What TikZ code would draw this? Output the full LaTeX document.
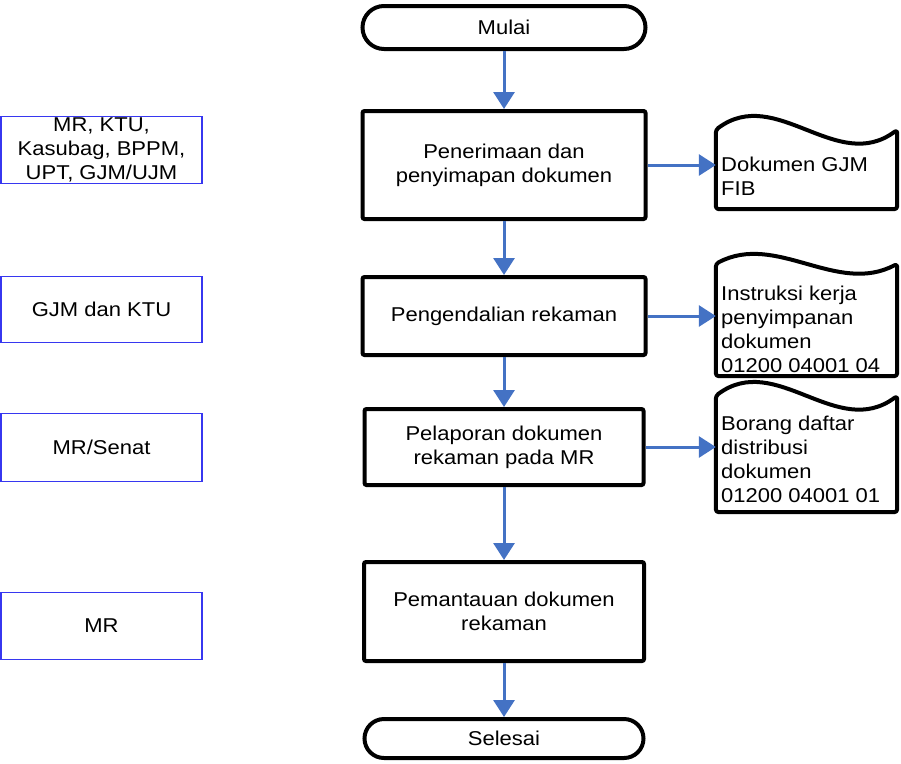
\documentclass[tikz,border=0pt]{standalone}
\usepackage{fontspec}
\setmainfont{Liberation Sans}[FakeStretch=1.1]
\usetikzlibrary{arrows.meta,calc}
\definecolor{arrowblue}{RGB}{68,114,196}
\definecolor{laneblue}{RGB}{55,55,240}
\begin{document}
\begin{tikzpicture}[x=1pt,y=-1pt,
  every node/.style={font=\fontsize{20}{24}\selectfont, inner sep=0pt, text=black},
  term/.style={draw, line width=4pt, align=center, minimum width=283pt},
  proc/.style={draw, line width=4pt, rounded corners=2pt, align=center, minimum width=283pt},
  lane/.style={draw=laneblue, line width=1.5pt, align=center, minimum width=201pt},
  docarea/.style={minimum width=181pt},
  docline/.style={line width=4pt, rounded corners=3pt, line join=round, fill=white},
  doctext/.style={anchor=west, align=left},
  flow/.style={draw=arrowblue, line width=3pt, -{Triangle[width=21pt,length=17pt]}}
]
\useasboundingbox (0,0) rectangle (901,763);

% main flow
\node[term, minimum height=43pt, rounded corners=21.5pt] (start) at (504,27.5) {Mulai};
\node[proc, minimum height=108pt] (b1) at (504,165) {Penerimaan dan\\penyimapan dokumen};
\node[proc, minimum height=78pt] (b2) at (504,316) {Pengendalian rekaman};
\node[proc, minimum height=76pt, minimum width=279pt] (b3) at (504,447) {Pelaporan dokumen\\rekaman pada MR};
\node[proc, minimum height=99pt, minimum width=280pt] (b4) at (504,611.5) {Pemantauan dokumen\\rekaman};
\node[term, minimum height=39pt, minimum width=279pt, rounded corners=19.5pt] (end) at (504,738.5) {Selesai};

% lanes
\node[lane, minimum height=67pt] (l1) at (101.5,150) {MR, KTU,\\Kasubag, BPPM,\\UPT, GJM/UJM};
\node[lane, minimum height=66pt] (l2) at (101.5,309.5) {GJM dan KTU};
\node[lane, minimum height=68pt] (l3) at (101.5,447.5) {MR/Senat};
\node[lane, minimum height=67pt] (l4) at (101.5,626) {MR};

% documents
\node[docarea, minimum height=79pt] (d1) at (806.5,169.5) {};
\node[docarea, minimum height=112pt] (d2) at (806.5,320) {};
\node[docarea, minimum height=116pt] (d3) at (806.5,454) {};

\draw[docline] (d1.north west) .. controls ($(d1.north west)+(60.3,-45)$) and ($(d1.north east)+(-60.3,45)$) .. (d1.north east) -- (d1.south east) -- (d1.south west) -- cycle;
\draw[docline] (d2.north west) .. controls ($(d2.north west)+(60.3,-32)$) and ($(d2.north east)+(-60.3,32)$) .. (d2.north east) -- (d2.south east) -- (d2.south west) -- cycle;
\draw[docline] (d3.north west) .. controls ($(d3.north west)+(60.3,-45)$) and ($(d3.north east)+(-60.3,45)$) .. (d3.north east) -- (d3.south east) -- (d3.south west) -- cycle;

\node[doctext] (t1) at (721,176.5) {Dokumen GJM\\FIB};
\node[doctext] (t2) at (721,329) {Instruksi kerja\\penyimpanan\\dokumen\\01200 04001 04};
\node[doctext] (t3) at (721,459) {Borang daftar\\distribusi\\dokumen\\01200 04001 01};

% connectors
\draw[flow] (start.south) -- (b1.north);
\draw[flow] (b1.south) -- (b2.north);
\draw[flow] (b2.south) -- (b3.north);
\draw[flow] (b3.south) -- (b4.north);
\draw[flow] (b4.south) -- (end.north);
\draw[flow] (b1.east) -- (b1.east -| d1.west);
\draw[flow] (b2.east) -- (b2.east -| d2.west);
\draw[flow] (b3.east) -- (b3.east -| d3.west);
\end{tikzpicture}
\end{document}
